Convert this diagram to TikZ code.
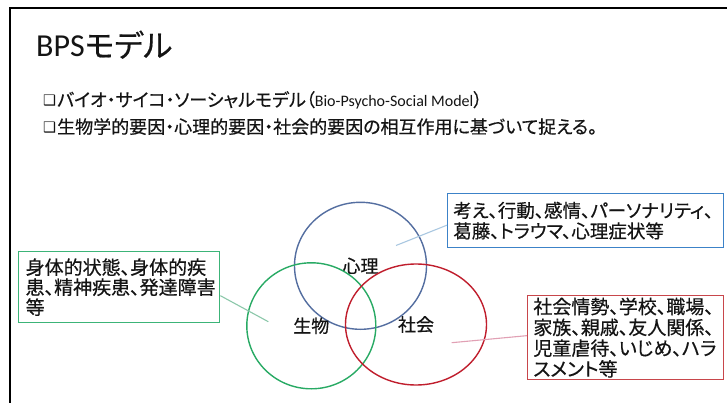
\documentclass[tikz,border=0pt]{standalone}
\usepackage{fontspec}
\setmainfont{Carlito}
\newfontfamily\jp[RawFeature=+palt, FakeBold=0.5]{Noto Sans CJK JP}
\newfontfamily\symfont{DejaVu Sans}
\usetikzlibrary{shapes.geometric}
\definecolor{cblue}{RGB}{84,110,160}
\definecolor{cgreen}{RGB}{40,170,100}
\definecolor{cred}{RGB}{192,30,45}
\definecolor{bblue}{RGB}{60,130,200}
\definecolor{bgreen}{RGB}{60,180,120}
\definecolor{bred}{RGB}{200,70,75}
\definecolor{lblue}{RGB}{170,200,225}
\definecolor{lgreen}{RGB}{140,200,170}
\definecolor{lred}{RGB}{225,160,180}
\definecolor{ink}{RGB}{20,20,20}
\tikzset{
  venn/.style={ellipse, draw, line width=1.4pt, inner sep=0pt, text=ink,
    font=\jp\fontsize{18}{20}\selectfont},
  infobox/.style={rectangle, draw, line width=1.3pt, align=left, anchor=north west,
    inner ysep=2pt, text=ink},
  link/.style={line width=1.1pt},
  bullet/.style={anchor=base west, inner sep=0pt, font=\symfont\fontsize{14.5}{18}\selectfont, text=ink},
  line/.style={anchor=base west, inner sep=0pt, text=ink}
}
\begin{document}
\begin{tikzpicture}[x=1pt,y=-1pt]
\useasboundingbox (0,0) rectangle (727,403);
\fill[white] (0,0) rectangle (727,403);
% slide frame
\draw[line width=2.2pt, black] (10,403) -- (10,8) -- (727,8);
% title
\node[line, font=\fontsize{32}{36}\selectfont] (title) at (36,57) {BPS{\jp\fontsize{31}{36}\selectfont モデル}};
% bullets
\node[bullet] (b1) at (43,106) {❑};
\node[line, font=\fontsize{16}{20}\selectfont] (t1) at (57,106.5)
  {{\jp\fontsize{18}{20}\selectfont バイオ・サイコ・ソーシャルモデル（}Bio-Psycho-Social Model{\jp\fontsize{18}{20}\selectfont ）}};
\node[bullet] (b2) at (43,133) {❑};
\node[line, font=\jp\fontsize{18}{20}\selectfont] (t2) at (57,133.5)
  {生物学的要因・心理的要因・社会的要因の相互作用に基づいて捉える。};
% Venn circles
\node[venn, draw=cblue, minimum width=132pt, minimum height=127pt] (psy) at (360.5,265.8) {心理};
\node[venn, draw=cgreen, minimum width=129pt, minimum height=126pt] (bio) at (311.3,325.8) {生物};
\node[venn, draw=cred, minimum width=141pt, minimum height=121pt] (soc) at (416,324.5) {社会};
% info boxes
\node[infobox, draw=bgreen, inner xsep=7pt, text width=187pt, minimum height=71pt,
  font=\jp\fontsize{19}{20}\selectfont] (gbox) at (18,251)
  {身体的状態、身体的疾\\患、精神疾患、発達障害\\等};
\node[infobox, draw=bblue, inner xsep=5.7pt, text width=264.6pt, minimum height=54pt,
  font=\jp\fontsize{18.5}{20.6}\selectfont] (bbox) at (447,193)
  {考え、行動、感情、パーソナリティ、\\葛藤、トラウマ、心理症状等};
\node[infobox, draw=bred, inner xsep=5.7pt, text width=184.6pt, minimum height=84pt,
  font=\jp\fontsize{19}{20.8}\selectfont] (rbox) at (527,295)
  {社会情勢、学校、職場、\\家族、親戚、友人関係、\\児童虐待、いじめ、ハラ\\スメント等};
% connector ends inside circles
\coordinate (gend) at (268.3,321.7);
\coordinate (bend) at (396,245.5);
\coordinate (rend) at (451.7,342.7);
\draw[link, lgreen] ([yshift=-8.5pt]gbox.east) -- (gend);
\draw[link, lblue] ([yshift=-4.5pt]bbox.west) -- (bend);
\draw[link, lred] ([yshift=2pt]rbox.west) -- (rend);
\end{tikzpicture}
\end{document}
